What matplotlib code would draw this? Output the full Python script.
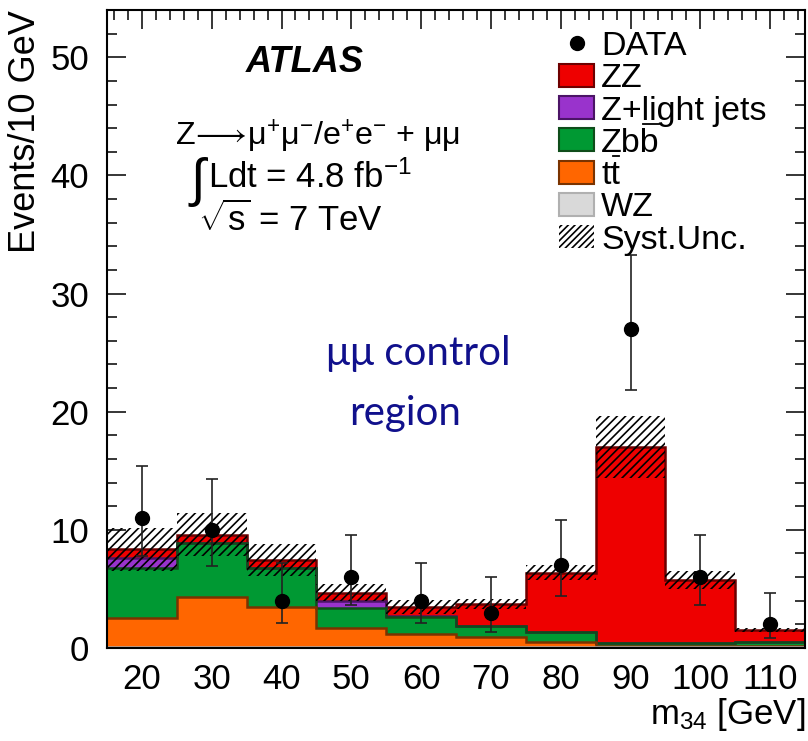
import numpy as np
import matplotlib
matplotlib.use("Agg")
import matplotlib.pyplot as plt
from matplotlib.patches import Rectangle
from matplotlib.lines import Line2D

plt.rcParams['font.family'] = ['Liberation Sans', 'DejaVu Sans']
plt.rcParams['mathtext.fontset'] = 'custom'
plt.rcParams['mathtext.rm'] = 'Liberation Sans'
plt.rcParams['mathtext.it'] = 'Liberation Sans:italic'
plt.rcParams['mathtext.bf'] = 'Liberation Sans:bold'
plt.rcParams['hatch.linewidth'] = 1.2

# ---- data ----
bin_edges = [15, 25, 35, 45, 55, 65, 75, 85, 95, 105, 115]
bin_centers = [20, 30, 40, 50, 60, 70, 80, 90, 100, 110]
data = [11, 10, 4, 6, 4, 3, 7, 27, 6, 2]
data_err_up = [4.4, 4.3, 3.2, 3.6, 3.2, 3.0, 3.8, 6.25, 3.6, 2.68]
data_err_down = [3.2, 3.1, 1.86, 2.36, 1.86, 1.62, 2.58, 5.2, 2.36, 1.18]

wz = [0.1, 0.1, 0.1, 0.1, 0.1, 0.1, 0.1, 0.1, 0.1, 0.1]
ttbar = [2.4, 4.2, 3.4, 1.6, 1.05, 0.85, 0.45, 0.1, 0.1, 0.05]
zbb = [4.3, 4.55, 3.25, 1.7, 1.5, 0.9, 0.8, 0.2, 0.25, 0.4]
zlight = [0.8, 0.05, 0.05, 0.62, 0.05, 0.0, 0.0, 0.0, 0.0, 0.0]
zz = [0.75, 0.7, 0.65, 0.66, 0.8, 1.87, 5.02, 16.6, 5.3, 0.97]
syst = [1.8, 1.8, 1.35, 0.7, 0.6, 0.45, 0.65, 2.6, 0.75, 0.2]

xticks = [20, 30, 40, 50, 60, 70, 80, 90, 100, 110]
yticks = [0, 10, 20, 30, 40, 50]

# ---- figure ----
fig = plt.figure(figsize=(8.08, 7.41), dpi=100)
W, H = 808, 741
L, R, T, B = 107, 805, 10, 648
ax = fig.add_axes([L / W, 1 - B / H, (R - L) / W, (B - T) / H])
renderer = fig.canvas.get_renderer()

edges = np.array(bin_edges, dtype=float)
c_wz = np.array(wz)
c_tt = c_wz + np.array(ttbar)
c_zbb = c_tt + np.array(zbb)
c_zl = c_zbb + np.array(zlight)
c_zz = c_zl + np.array(zz)
total = c_zz
s = np.array(syst)

comps = [
    (c_zz, '#ee0000', '#6e0000'),
    (c_zl, '#9933cc', '#4b1466'),
    (c_zbb, '#009933', '#0f4d1a'),
    (c_tt, '#ff6600', '#7a3300'),
    (c_wz, '#d9d9d9', '#b0b0b0'),
]
for cum, fc, ec in comps:
    ax.stairs(cum, edges, baseline=0, fill=True, facecolor=fc, edgecolor='none', zorder=2)
    ax.stairs(cum, edges, baseline=None, fill=False, color=ec, lw=1.8, zorder=2.1)

ax.stairs(total + s, edges, baseline=total - s, fill=True, facecolor='none',
          edgecolor='black', hatch='////', lw=0, zorder=3)

ax.errorbar(bin_centers, data, yerr=[data_err_down, data_err_up], fmt='o',
            color='black', ms=10, ecolor='#222222', elinewidth=1.2, capsize=4,
            capthick=1.2, zorder=5)

ax.set_xlim(15, 115)
ax.set_ylim(0, 54)
ax.set_xticks(xticks)
ax.set_yticks(yticks)
ax.set_xticks(np.arange(16, 115, 2), minor=True)
ax.set_yticks(np.arange(0, 55, 2), minor=True)
ax.tick_params(which='both', direction='in', top=True, right=True, width=1.1)
ax.tick_params(which='major', length=13.5, labelsize=25)
ax.tick_params(which='minor', length=7)
ax.tick_params(axis='x', which='major', pad=11)
ax.tick_params(axis='y', which='major', pad=13)
for sp in ax.spines.values():
    sp.set_linewidth(1.5)

ax.set_ylabel('Events/10 GeV', fontsize=26, loc='top', labelpad=5)
ax.set_xlabel('m$_{34}$ [GeV]', fontsize=25, loc='right', labelpad=0)

def axpt(px, py):
    return (px - L) / (R - L), (B - py) / (B - T)

# ---- text ----
fs = 25
ax.text(*axpt(305, 62), 'ATLAS', fontsize=26, fontweight='bold', fontstyle='italic',
        ha='center', va='center', transform=ax.transAxes)
ax.text(*axpt(175, 137),
        'Z$\\!{\\longrightarrow}\\!$μ$^{+}$μ$^{-}$/e$^{+}$e$^{-}$ + μμ',
        fontsize=23.2, ha='left', va='center', transform=ax.transAxes)
ax.text(*axpt(191, 182), '∫', fontsize=38, ha='left', va='center',
        transform=ax.transAxes)
ax.text(*axpt(208, 178), 'Ldt = 4.8 fb$^{-1}$', fontsize=fs,
        ha='left', va='center', transform=ax.transAxes)
ax.text(*axpt(198, 220), '$\\sqrt{\\rm s}$ = 7 TeV', fontsize=fs,
        ha='left', va='center', transform=ax.transAxes)
ax.text(*axpt(418, 365), 'μμ control', fontsize=29, family=['Lato', 'DejaVu Sans'],
        color='#10108c', ha='center', va='baseline', transform=ax.transAxes)
ax.text(*axpt(405, 425), 'region', fontsize=29, family=['Lato', 'DejaVu Sans'],
        color='#10108c', ha='center', va='baseline', transform=ax.transAxes)

# ---- legend (manual) ----
# (label, kind, facecolor, edgecolor, number of leading chars not under the bar)
leg_items = [
    ('DATA', 'marker', None, None, None),
    ('ZZ', 'box', '#ee0000', '#6e0000', None),
    ('Z+light jets', 'box', '#9933cc', '#4b1466', None),
    ('Zbb', 'box', '#009933', '#0f4d1a', 2),
    ('tt', 'box', '#ff6600', '#7a3300', 1),
    ('WZ', 'box', '#d9d9d9', '#b0b0b0', None),
    ('Syst.Unc.', 'hatch', None, None, None),
]
leg_fs = 24.5
y0 = 43
pitch = 32.3
bw, bh = 35, 23
for i, (lab, kind, fc, ec, nbar) in enumerate(leg_items):
    yc = y0 + i * pitch
    if kind == 'marker':
        ax.plot(*axpt(577, yc), 'o', color='black', ms=10, transform=ax.transAxes,
                clip_on=False, zorder=6)
    else:
        x0, y1 = axpt(559, yc + bh / 2)
        x1, y2 = axpt(559 + bw, yc - bh / 2)
        if kind == 'box':
            ax.add_patch(Rectangle((x0, y1), x1 - x0, y2 - y1, facecolor=fc, edgecolor=ec,
                                   lw=1.5, transform=ax.transAxes, zorder=6))
        else:
            ax.add_patch(Rectangle((x0, y1), x1 - x0, y2 - y1, facecolor='none',
                                   edgecolor='black', hatch='/////', lw=0,
                                   transform=ax.transAxes, zorder=6))
    base_py = yc + 12
    t = ax.text(*axpt(601, base_py), lab, fontsize=leg_fs, ha='left', va='baseline',
                transform=ax.transAxes, zorder=6)
    if nbar is not None:
        tmp = ax.text(*axpt(601, base_py), lab[:nbar], fontsize=leg_fs, ha='left',
                      va='baseline', transform=ax.transAxes)
        xa = tmp.get_window_extent(renderer).x1
        tmp.remove()
        xb = t.get_window_extent(renderer).x1
        ybar = H - (base_py - 28)
        fig.add_artist(Line2D([(xa + 2) / W, (xb - 1) / W], [ybar / H, ybar / H],
                              color='black', lw=1.3, transform=fig.transFigure))

fig.savefig('out.png', dpi=100)
